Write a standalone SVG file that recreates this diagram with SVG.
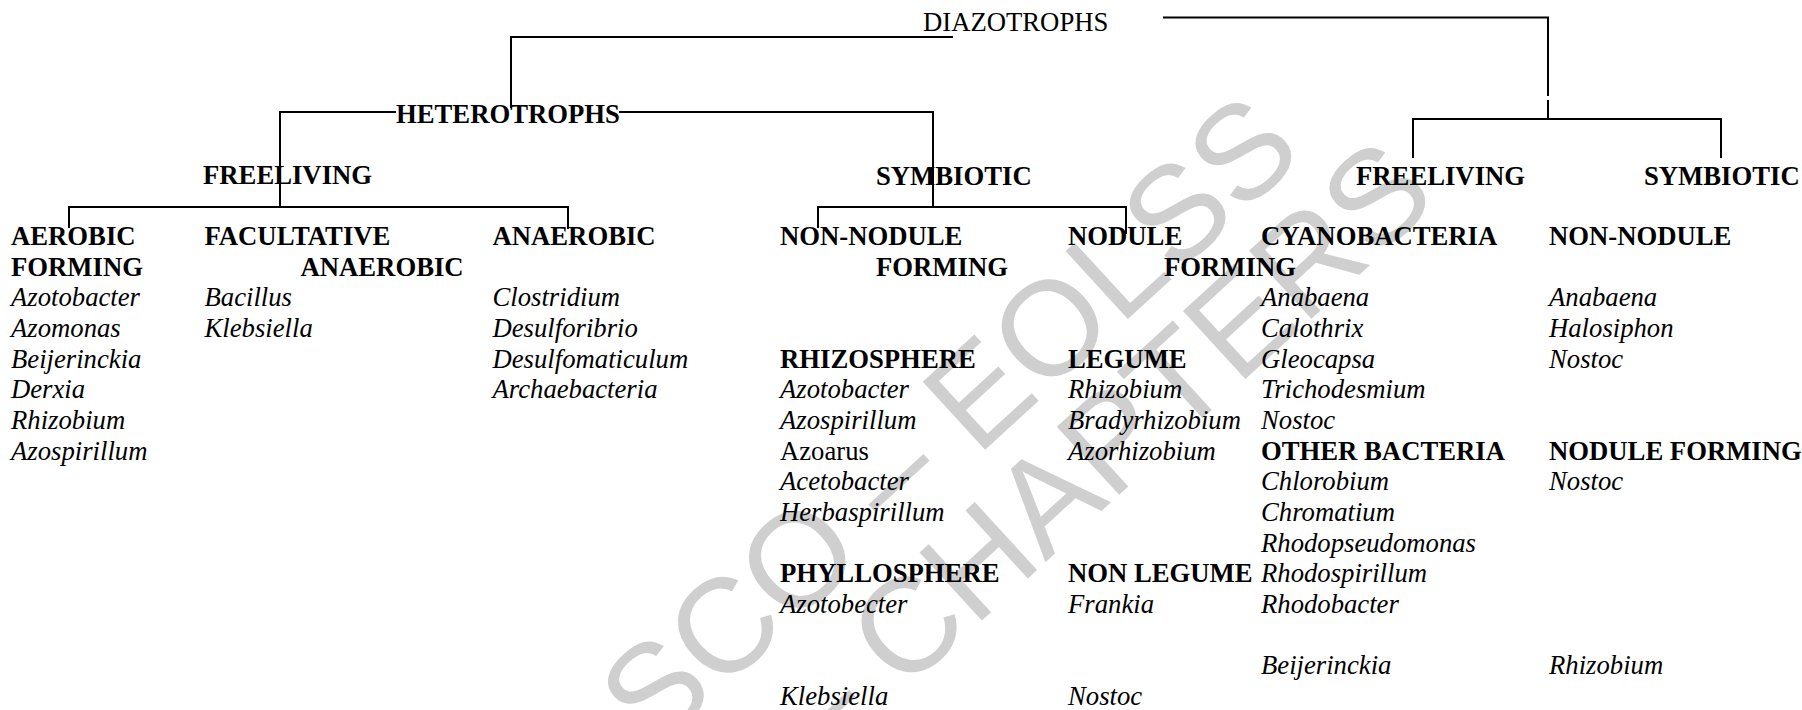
<svg xmlns="http://www.w3.org/2000/svg" width="1802" height="710" viewBox="0 0 1802 710">
<style>
text{font-family:"Liberation Serif","Times New Roman",serif;font-size:26.7px;fill:#000}
.b{font-weight:bold}
.i{font-style:italic}
.r{font-weight:normal}
.wm{font-family:"Liberation Sans",Arial,sans-serif;font-size:134px;fill:#cfcfcf}
.ln{stroke:#000;stroke-width:2;fill:none}
</style>
<g id="watermark">
<text class="wm" text-anchor="end" transform="translate(1306.5,155.4) rotate(-42.5)">SCO – EOLSS</text>
<text class="wm" text-anchor="end" transform="translate(1440.5,200.4) rotate(-42.5)">– CHAPTERS</text>
</g>
<g id="connectors">
<polyline class="ln" points="953,37 511,37 511,108"/>
<polyline class="ln" points="396,112 280,112 280,207"/>
<polyline class="ln" points="69,228 69,207 568,207 568,229"/>
<polyline class="ln" points="619,112 933,112 933,207"/>
<polyline class="ln" points="818,228 818,207 1126,207 1126,234"/>
<polyline class="ln" points="1163,17.5 1548,17.5 1548,96"/>
<line class="ln" x1="1548" y1="100" x2="1548" y2="119"/>
<polyline class="ln" points="1413,158 1413,119 1721,119 1721,158"/>
</g>
<g id="diazotrophs"><text x="923" y="31">DIAZOTROPHS</text></g>
<g id="heterotrophs"><text class="b" x="396" y="123">HETEROTROPHS</text></g>
<g id="freeliving-het"><text class="b" x="203" y="184">FREELIVING</text></g>
<g id="symbiotic-het"><text class="b" x="876" y="184.5">SYMBIOTIC</text></g>
<g id="freeliving-auto"><text class="b" x="1356" y="184.5">FREELIVING</text></g>
<g id="symbiotic-auto"><text class="b" x="1644" y="185">SYMBIOTIC</text></g>
<g id="aerobic">
<text class="b" x="11" y="245">AEROBIC</text>
<text class="b" x="11" y="275.7">FORMING</text>
<text class="i" x="11" y="306.3">Azotobacter</text>
<text class="i" x="11" y="337">Azomonas</text>
<text class="i" x="11" y="367.7">Beijerinckia</text>
<text class="i" x="11" y="398.3">Derxia</text>
<text class="i" x="11" y="429">Rhizobium</text>
<text class="i" x="11" y="459.7">Azospirillum</text>
</g>
<g id="facultative">
<text class="b" x="204.5" y="245">FACULTATIVE</text>
<text class="b" x="300.5" y="275.7">ANAEROBIC</text>
<text class="i" x="204.5" y="306.3">Bacillus</text>
<text class="i" x="204.5" y="337">Klebsiella</text>
</g>
<g id="anaerobic">
<text class="b" x="492.5" y="245">ANAEROBIC</text>
<text class="i" x="492.5" y="306.3">Clostridium</text>
<text class="i" x="492.5" y="337">Desulforibrio</text>
<text class="i" x="492.5" y="367.7">Desulfomaticulum</text>
<text class="i" x="492.5" y="398.3">Archaebacteria</text>
</g>
<g id="non-nodule-forming">
<text class="b" x="780" y="245">NON-NODULE</text>
<text class="b" x="876" y="275.7">FORMING</text>
</g>
<g id="rhizosphere">
<text class="b" x="780" y="367.7">RHIZOSPHERE</text>
<text class="i" x="780" y="398.3">Azotobacter</text>
<text class="i" x="780" y="429">Azospirillum</text>
<text class="r" x="780" y="459.7">Azoarus</text>
<text class="i" x="780" y="490.3">Acetobacter</text>
<text class="i" x="780" y="521">Herbaspirillum</text>
</g>
<g id="phyllosphere">
<text class="b" x="780" y="582.3">PHYLLOSPHERE</text>
<text class="i" x="780" y="613">Azotobecter</text>
<text class="i" x="780" y="705">Klebsiella</text>
</g>
<g id="nodule-forming">
<text class="b" x="1068" y="245">NODULE</text>
<text class="b" x="1164" y="275.7">FORMING</text>
</g>
<g id="legume">
<text class="b" x="1068" y="367.7">LEGUME</text>
<text class="i" x="1068" y="398.3">Rhizobium</text>
<text class="i" x="1068" y="429">Bradyrhizobium</text>
<text class="i" x="1068" y="459.7">Azorhizobium</text>
</g>
<g id="non-legume">
<text class="b" x="1068" y="582.3">NON LEGUME</text>
<text class="i" x="1068" y="613">Frankia</text>
<text class="i" x="1068" y="705">Nostoc</text>
</g>
<g id="cyanobacteria">
<text class="b" x="1261" y="245">CYANOBACTERIA</text>
<text class="i" x="1261" y="306.3">Anabaena</text>
<text class="i" x="1261" y="337">Calothrix</text>
<text class="i" x="1261" y="367.7">Gleocapsa</text>
<text class="i" x="1261" y="398.3">Trichodesmium</text>
<text class="i" x="1261" y="429">Nostoc</text>
</g>
<g id="other-bacteria">
<text class="b" x="1261" y="459.7">OTHER BACTERIA</text>
<text class="i" x="1261" y="490.3">Chlorobium</text>
<text class="i" x="1261" y="521">Chromatium</text>
<text class="i" x="1261" y="551.7">Rhodopseudomonas</text>
<text class="i" x="1261" y="582.3">Rhodospirillum</text>
<text class="i" x="1261" y="613">Rhodobacter</text>
<text class="i" x="1261" y="674.3">Beijerinckia</text>
</g>
<g id="non-nodule-auto">
<text class="b" x="1549" y="245">NON-NODULE</text>
<text class="i" x="1549" y="306.3">Anabaena</text>
<text class="i" x="1549" y="337">Halosiphon</text>
<text class="i" x="1549" y="367.7">Nostoc</text>
</g>
<g id="nodule-forming-auto">
<text class="b" x="1549" y="459.7">NODULE FORMING</text>
<text class="i" x="1549" y="490.3">Nostoc</text>
<text class="i" x="1549" y="674.3">Rhizobium</text>
</g>
</svg>
